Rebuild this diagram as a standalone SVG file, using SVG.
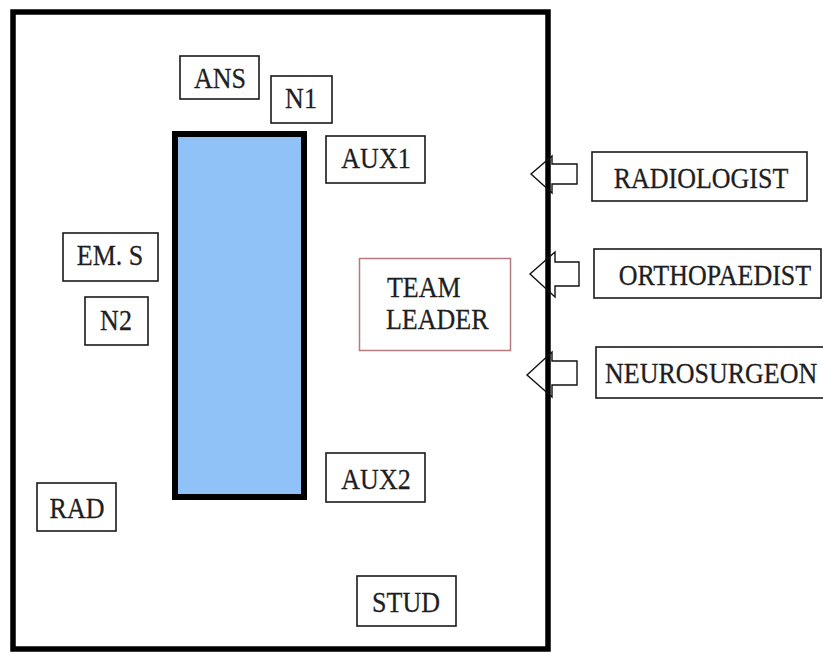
<svg xmlns="http://www.w3.org/2000/svg" width="823" height="652" viewBox="0 0 823 652">
<style>
.box{fill:#fff;stroke:#1a1a1a;stroke-width:1.6}
.t{font-family:"Liberation Serif","Times New Roman",serif;font-size:26px;fill:#1e1e1e;text-anchor:middle;stroke:#1e1e1e;stroke-width:0.25}
.s{text-anchor:start}
.arr{fill:none;stroke:#111;stroke-width:1.4;stroke-linejoin:miter}
</style>
<rect width="823" height="652" fill="#fff"/>
<g id="room"><rect x="13" y="12" width="535" height="637" fill="none" stroke="#000" stroke-width="5.5"/></g>
<g id="table"><rect x="175" y="134" width="129" height="363" fill="#90c2f8" stroke="#000" stroke-width="6"/></g>
<g id="ans"><rect class="box" x="180" y="56" width="79" height="43"/><text class="t" transform="translate(220,88) scale(1,1.15)">ANS</text></g>
<g id="n1"><rect class="box" x="271" y="76" width="61" height="47"/><text class="t" transform="translate(301,108) scale(1,1.15)">N1</text></g>
<g id="aux1"><rect class="box" x="326" y="136" width="99" height="47"/><text class="t" transform="translate(376,168) scale(1,1.15)">AUX1</text></g>
<g id="ems"><rect class="box" x="63" y="233" width="95" height="48"/><text class="t" transform="translate(110,265) scale(1,1.15)">EM. S</text></g>
<g id="n2"><rect class="box" x="85" y="297" width="63" height="48"/><text class="t" transform="translate(116,330) scale(1,1.15)">N2</text></g>
<g id="teamleader"><rect x="359.5" y="258.5" width="151" height="92" fill="#fff" stroke="#b57a80" stroke-width="1.5"/><text class="t s" transform="translate(387,297) scale(1,1.15)">TEAM</text><text class="t s" transform="translate(386,329) scale(1,1.15)">LEADER</text></g>
<g id="aux2"><rect class="box" x="326" y="453" width="99" height="49"/><text class="t" transform="translate(376,489) scale(1,1.15)">AUX2</text></g>
<g id="rad"><rect class="box" x="37" y="483" width="79" height="48"/><text class="t" transform="translate(77,518) scale(1,1.15)">RAD</text></g>
<g id="stud"><rect class="box" x="357" y="576" width="99" height="50"/><text class="t" transform="translate(406,612) scale(1,1.15)">STUD</text></g>
<g id="radiologist"><rect class="box" x="592" y="152" width="215" height="49"/><text class="t" transform="translate(701,188) scale(1,1.15)">RADIOLOGIST</text></g>
<g id="orthopaedist"><rect class="box" x="594" y="249" width="227" height="49"/><text class="t" transform="translate(715,285) scale(1,1.15)">ORTHOPAEDIST</text></g>
<g id="neurosurgeon"><rect class="box" x="596" y="347" width="230" height="51"/><text class="t s" transform="translate(605,383) scale(1,1.15)">NEUROSURGEON</text></g>
<g id="connectors">
<polygon class="arr" points="531,174 552,156 552,164 577,164 577,184 552,184 552,193"/>
<polygon class="arr" points="530,274 555,252 555,262 579,262 579,286 555,286 555,297"/>
<polygon class="arr" points="527,375 552,352 552,361 577,361 577,385 552,385 552,397"/>
</g>
</svg>
